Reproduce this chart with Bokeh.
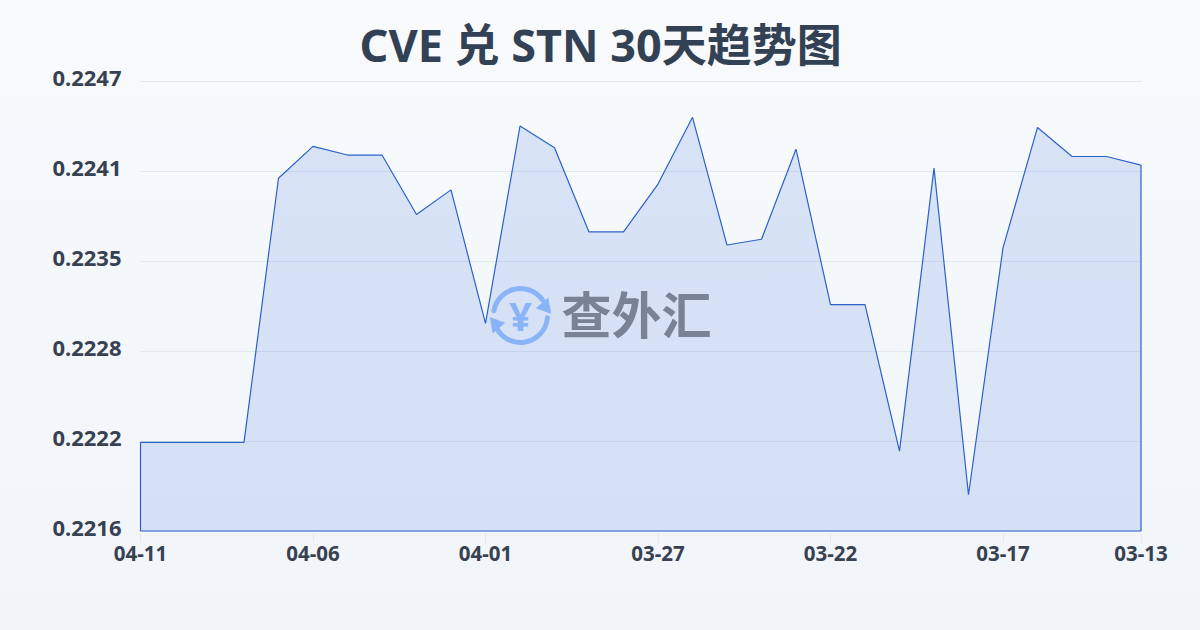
from bokeh.plotting import figure
from bokeh.embed import file_html
from bokeh.resources import INLINE
from bokeh.models import Label, FixedTicker, GlobalInlineStyleSheet, LinearAxis, Range1d
import math

dates = ["04-11","04-10","04-09","04-08","04-07","04-06","04-05","04-04","04-03","04-02",
         "04-01","03-31","03-30","03-29","03-28","03-27","03-26","03-25","03-24","03-23",
         "03-22","03-21","03-20","03-19","03-18","03-17","03-16","03-15","03-14","03-13"]
rates = [0.22221,0.22221,0.22221,0.22221,0.22403,0.22425,0.22419,0.22419,0.22378,0.22395,
         0.22303,0.22439,0.22424,0.22366,0.22366,0.22399,0.22445,0.22357,0.22361,0.22423,
         0.22316,0.22316,0.22215,0.22410,0.22185,0.22355,0.22438,0.22418,0.22418,0.22412]
x_tick_idx = [0,5,10,15,20,25,29]
y_ticks = [0.2216,0.2222,0.2228,0.2235,0.2241,0.2247]
y_tick_pos = [0.2216,0.22222,0.22284,0.22346,0.22408,0.2247]
title_text = "CVE 兑 STN 30天趋势图"

W, H = 1200, 630
FL, FR, FT, FB = 138, 1143, 78, 533
PX = 1000.5/29
PY = 0.0031/450
p = figure(width=W, height=H, output_backend="svg", toolbar_location=None,
           x_range=(-2/PX, 29+2.5/PX), y_range=(0.2216-2.5*PY, 0.2247+2.5*PY),
           min_border_left=FL, min_border_right=W-FR, min_border_top=FT, min_border_bottom=H-FB,
           border_fill_color=None, background_fill_color=None, outline_line_color=None)
p.stylesheets = [GlobalInlineStyleSheet(css="html,body{min-height:100%;background:linear-gradient(180deg,#f8fafc 0%,#f1f5f9 100%) fixed;}")]

# title
p.title.text = title_text
p.title.align = "left"
p.title.offset = 221
p.title.standoff = 8
p.title.text_font = "'Noto Sans', 'Noto Sans CJK SC'"
p.title.text_font_style = "bold"
p.title.text_font_size = "45px"
p.title.text_color = "#334155"

idx = list(range(len(rates)))
base = 0.2216
p.patch([0]+idx+[idx[-1]], [base]+rates+[base], fill_color="#2762de", fill_alpha=0.145,
        line_color="#2b62c9", line_width=1.2)

# axes: the value labels sit 2-3px above their rules, hence a shifted range
p.extra_y_ranges = {"labels": Range1d(0.2216-5.0*PY, 0.2247+0.0*PY)}
p.yaxis.visible = False
yax = LinearAxis(y_range_name="labels")
p.add_layout(yax, "left")
p.xaxis.ticker = FixedTicker(ticks=x_tick_idx)
p.xaxis.major_label_overrides = {i: dates[i] for i in x_tick_idx}
yax.ticker = FixedTicker(ticks=y_tick_pos)
yax.major_label_overrides = {a: f"{b:.4f}" for a, b in zip(y_tick_pos, y_ticks)}
for ax, size in ((p.xaxis[0], "20.5px"), (yax, "22px")):
    ax.major_label_text_font = "Noto Sans"
    ax.major_label_text_font_style = "bold"
    ax.major_label_text_font_size = size
    ax.major_label_text_color = "#374151"
    ax.minor_tick_line_color = None
    ax.axis_line_color = None
p.xaxis.major_tick_line_color = "#e2e8f0"
p.xaxis.major_tick_in = 0
p.xaxis.major_tick_out = 9
p.xaxis.major_label_standoff = 3
yax.major_tick_line_color = None
yax.major_label_standoff = 11

# grid rules run between the first and last day
p.xgrid.visible = False
p.ygrid.ticker = FixedTicker(ticks=y_tick_pos)
p.ygrid.grid_line_color = "#e2e8f0"
p.ygrid.grid_line_width = 1
p.ygrid.cross_bounds = (0, 29)

def sx(px):  # page pixel -> frame-relative x
    return px - FL
def sy(py):  # page pixel -> frame-relative y (from frame bottom)
    return FB - py

# watermark
p.add_layout(Label(x=sx(636), y=sy(311), x_units="screen", y_units="screen", text="查外汇",
                   text_align="center", text_baseline="middle", text_font="Noto Sans CJK SC",
                   text_font_style="bold", text_font_size="50px", text_color="#7a8295"))
p.add_layout(Label(x=sx(520), y=sy(315), x_units="screen", y_units="screen", text="¥",
                   text_align="center", text_baseline="middle", text_font="Noto Sans",
                   text_font_style="bold", text_font_size="40px", text_color="#8ab4f8"))

dx = lambda px: (px-140)/PX
dy = lambda py: 0.2216+(530.5-py)*PY
LOGO = "#8ab4f8"
p.arc(x=[dx(520)]*2, y=[dy(315)]*2, radius=27, radius_units="screen",
      start_angle=[math.radians(35), math.radians(195)], end_angle=[math.radians(170), math.radians(355)],
      line_color=LOGO, line_width=5, line_cap="round")
p.scatter(x=[dx(544.5), dx(495.5)], y=[dy(306), dy(324)], marker="triangle", size=15,
          angle=[math.radians(-20), math.radians(160)], fill_color=LOGO, line_color=LOGO)

open("out.html", "w").write(file_html(p, INLINE))
